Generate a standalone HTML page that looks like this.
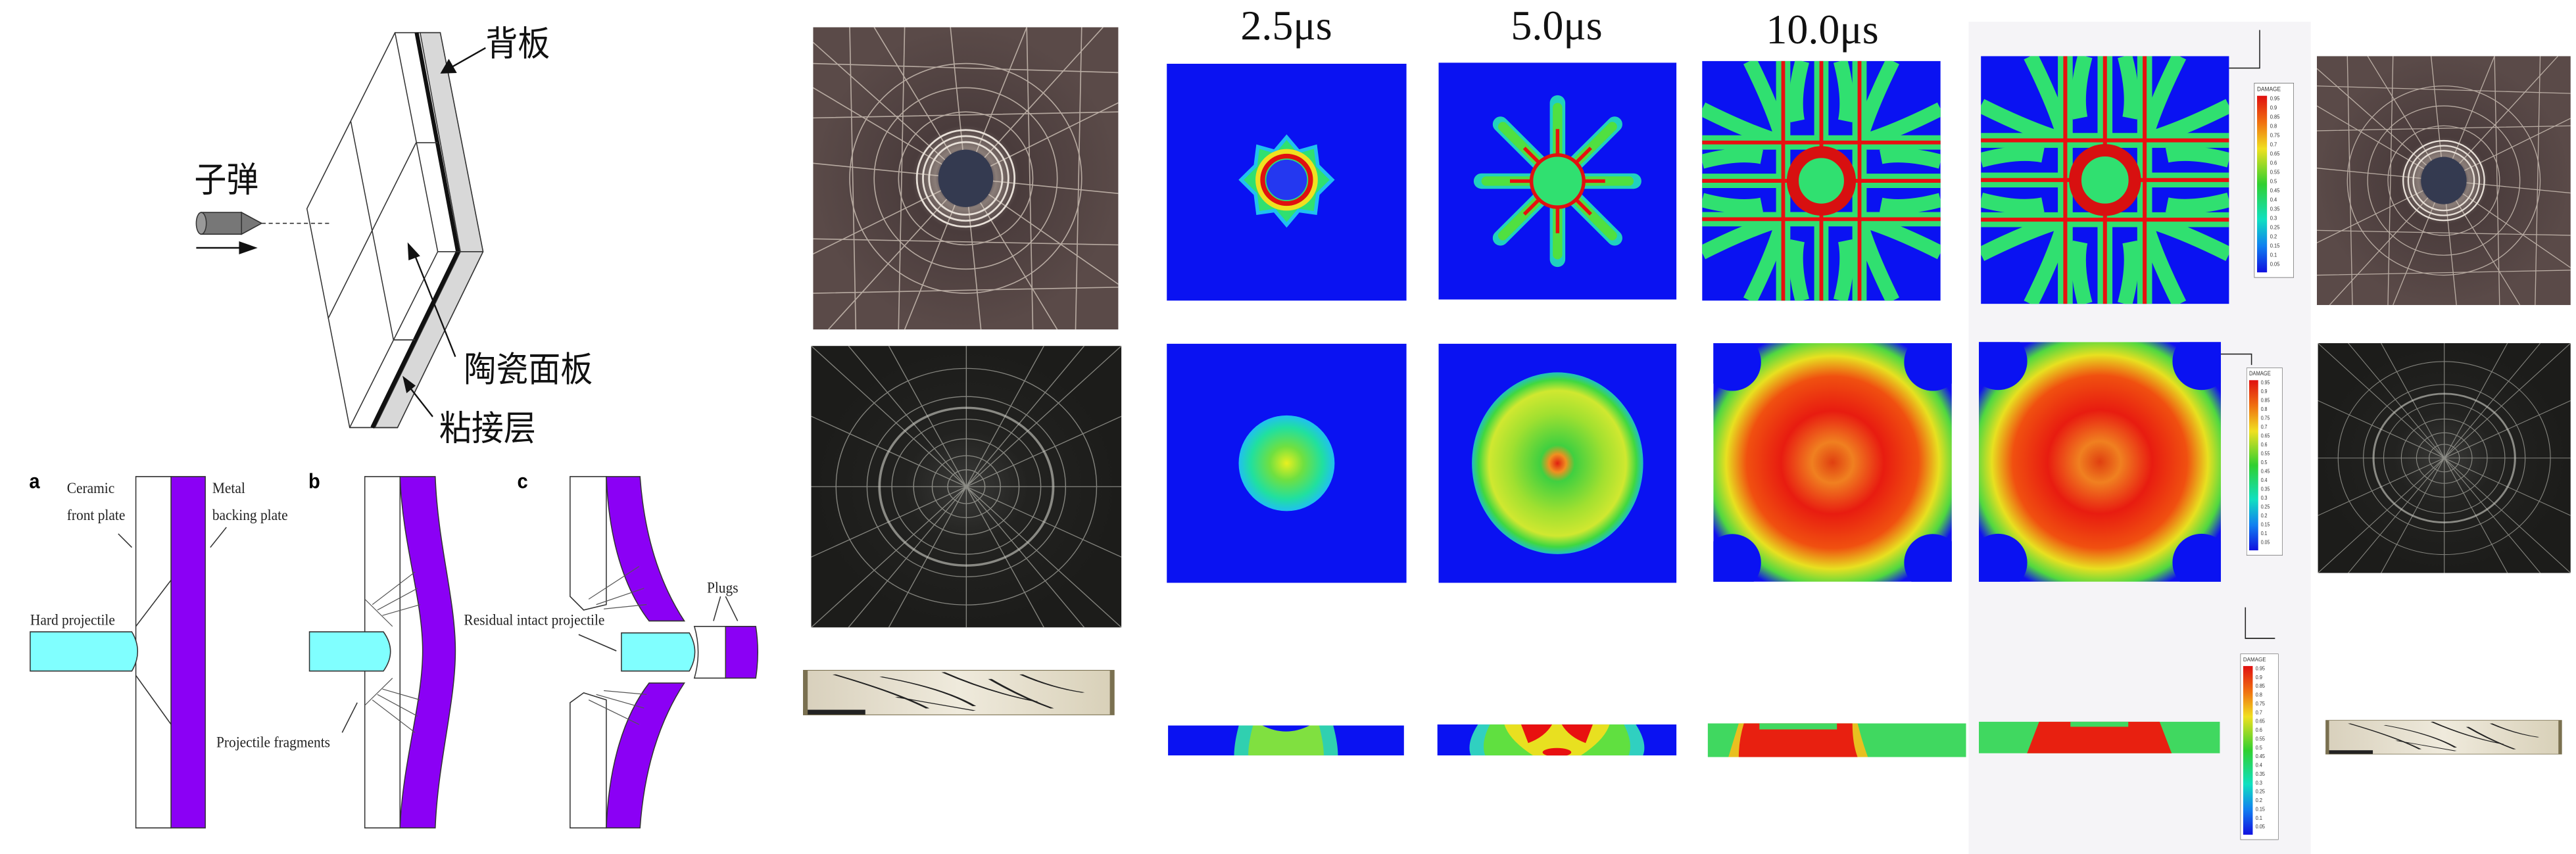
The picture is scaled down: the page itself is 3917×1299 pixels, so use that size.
<!DOCTYPE html>
<html><head><meta charset="utf-8"><style>
html,body{margin:0;padding:0;background:#fff;overflow:hidden;width:3917px;height:1299px;}
svg{display:block;}
</style></head><body>
<svg width="3917" height="1299" viewBox="0 0 3917 1299" xmlns="http://www.w3.org/2000/svg">
<defs>
<linearGradient id="cbar" x1="0" y1="0" x2="0" y2="1">
<stop offset="0" stop-color="#e01010"/><stop offset="0.15" stop-color="#f07010"/><stop offset="0.3" stop-color="#f0e020"/><stop offset="0.5" stop-color="#30d030"/><stop offset="0.7" stop-color="#10e0c0"/><stop offset="0.85" stop-color="#1080f0"/><stop offset="1" stop-color="#1010e0"/>
</linearGradient>
<radialGradient id="g4"><stop offset="0" stop-color="#e8f020"/><stop offset="0.35" stop-color="#70e040"/><stop offset="0.75" stop-color="#20e0a0"/><stop offset="1" stop-color="#20c0f0"/></radialGradient>
<radialGradient id="g5"><stop offset="0" stop-color="#e02010"/><stop offset="0.1" stop-color="#f09020"/><stop offset="0.2" stop-color="#40d040"/><stop offset="0.55" stop-color="#a0e030"/><stop offset="0.8" stop-color="#d0e830"/><stop offset="0.92" stop-color="#40d840"/><stop offset="1" stop-color="#20c0c0"/></radialGradient>
<radialGradient id="g6" cx="0.5" cy="0.5" r="0.72"><stop offset="0" stop-color="#e04010"/><stop offset="0.12" stop-color="#f08020"/><stop offset="0.3" stop-color="#e81c10"/><stop offset="0.5" stop-color="#f05010"/><stop offset="0.62" stop-color="#e8e020"/><stop offset="0.72" stop-color="#50d840"/><stop offset="0.8" stop-color="#1010f0"/><stop offset="1" stop-color="#1010f0"/></radialGradient>
<radialGradient id="ph1g"><stop offset="0" stop-color="#3a3548"/><stop offset="0.12" stop-color="#302a38"/><stop offset="0.2" stop-color="#8a7d78"/><stop offset="0.35" stop-color="#4a3c3c"/><stop offset="1" stop-color="#5a4a48"/></radialGradient>
<radialGradient id="ph2g"><stop offset="0" stop-color="#3a3a38"/><stop offset="0.4" stop-color="#222220"/><stop offset="1" stop-color="#1c1c1a"/></radialGradient>
<linearGradient id="stripg" x1="0" y1="0" x2="1" y2="0"><stop offset="0" stop-color="#d8d0bc"/><stop offset="0.5" stop-color="#efeadc"/><stop offset="1" stop-color="#d8d0b8"/></linearGradient>

<symbol id="s1" viewBox="0 0 100 100" preserveAspectRatio="none">
<rect width="100" height="100" fill="#0a12f2"/>
<polygon points="50,31 55,37 62,35 63,43 69,49 63,55 62,63 55,62 50,68 45,62 38,63 37,55 31,49 37,43 38,35 45,37" fill="#30e070" stroke="#20c0f0" stroke-width="1.5"/>
<circle cx="50" cy="49" r="11.5" fill="none" stroke="#f0e020" stroke-width="3"/>
<circle cx="50" cy="49" r="10" fill="none" stroke="#e01010" stroke-width="2"/>
<circle cx="50" cy="49" r="8.5" fill="#2438f0"/>
</symbol>

<symbol id="s2" viewBox="0 0 100 100" preserveAspectRatio="none">
<rect width="100" height="100" fill="#0a12f2"/>
<g stroke="#20d0c0" stroke-width="6.5" stroke-linecap="round">
<line x1="50" y1="50" x2="50" y2="17"/><line x1="50" y1="50" x2="50" y2="83"/><line x1="50" y1="50" x2="18" y2="50"/><line x1="50" y1="50" x2="82" y2="50"/>
<line x1="50" y1="50" x2="26" y2="26"/><line x1="50" y1="50" x2="74" y2="26"/><line x1="50" y1="50" x2="26" y2="74"/><line x1="50" y1="50" x2="74" y2="74"/>
</g>
<g stroke="#50e040" stroke-width="4" stroke-linecap="round">
<line x1="50" y1="50" x2="50" y2="19"/><line x1="50" y1="50" x2="50" y2="81"/><line x1="50" y1="50" x2="20" y2="50"/><line x1="50" y1="50" x2="80" y2="50"/>
<line x1="50" y1="50" x2="27" y2="27"/><line x1="50" y1="50" x2="73" y2="27"/><line x1="50" y1="50" x2="27" y2="73"/><line x1="50" y1="50" x2="73" y2="73"/>
</g>
<g stroke="#e81010" stroke-width="1.5">
<line x1="50" y1="50" x2="50" y2="28"/><line x1="50" y1="50" x2="50" y2="72"/><line x1="50" y1="50" x2="30" y2="50"/><line x1="50" y1="50" x2="70" y2="50"/>
<line x1="50" y1="50" x2="36" y2="36"/><line x1="50" y1="50" x2="64" y2="36"/><line x1="50" y1="50" x2="36" y2="64"/><line x1="50" y1="50" x2="64" y2="64"/>
</g>
<circle cx="50" cy="50" r="11" fill="#30e070" stroke="#e01010" stroke-width="1.5"/>
</symbol>

<symbol id="s3" viewBox="0 0 100 100" preserveAspectRatio="none">
<rect width="100" height="100" fill="#0a12f2"/>
<g stroke="#30e070" stroke-width="6" fill="none">
<line x1="34" y1="0" x2="34" y2="100"/><line x1="66" y1="0" x2="66" y2="100"/><line x1="50" y1="0" x2="50" y2="100"/>
<line x1="0" y1="34" x2="100" y2="34"/><line x1="0" y1="66" x2="100" y2="66"/><line x1="0" y1="50" x2="100" y2="50"/>
<path d="M20,0 Q30,20 34,34 M80,0 Q70,20 66,34 M20,100 Q30,80 34,66 M80,100 Q70,80 66,66 M0,20 Q20,30 34,34 M100,20 Q80,30 66,34 M0,80 Q20,70 34,66 M100,80 Q80,70 66,66"/>
<path d="M0,42 Q15,38 25,40 M100,42 Q85,38 75,40 M0,58 Q15,62 25,60 M100,58 Q85,62 75,60 M42,0 Q38,15 40,25 M58,0 Q62,15 60,25 M42,100 Q38,85 40,75 M58,100 Q62,85 60,75"/>
</g>
<g stroke="#e81010" stroke-width="1.6" fill="none">
<line x1="34" y1="0" x2="34" y2="100"/><line x1="66" y1="0" x2="66" y2="100"/><line x1="50" y1="0" x2="50" y2="100"/>
<line x1="0" y1="34" x2="100" y2="34"/><line x1="0" y1="66" x2="100" y2="66"/><line x1="0" y1="50" x2="100" y2="50"/>
</g>
<circle cx="50" cy="50" r="12" fill="#30e070" stroke="#d81010" stroke-width="5"/>
</symbol>

<symbol id="s4" viewBox="0 0 100 100" preserveAspectRatio="none">
<rect width="100" height="100" fill="#0a12f2"/>
<ellipse cx="50" cy="50" rx="20" ry="20" fill="url(#g4)"/>
</symbol>
<symbol id="s5" viewBox="0 0 100 100" preserveAspectRatio="none">
<rect width="100" height="100" fill="#0a12f2"/>
<ellipse cx="50" cy="50" rx="36" ry="38" fill="url(#g5)"/>
</symbol>
<symbol id="s6" viewBox="0 0 100 100" preserveAspectRatio="none">
<rect width="100" height="100" fill="url(#g6)"/>
<g fill="#0a12f2"><ellipse cx="8" cy="8" rx="12" ry="12"/><ellipse cx="92" cy="8" rx="12" ry="12"/><ellipse cx="8" cy="92" rx="12" ry="12"/><ellipse cx="92" cy="92" rx="12" ry="12"/></g>
</symbol>
<symbol id="s7" viewBox="0 0 100 100" preserveAspectRatio="none">
<rect width="100" height="100" fill="#0a12f2"/>
<path d="M30,0 L70,0 Q72,60 72,100 L28,100 Q28,60 30,0Z" fill="#30d0b0"/>
<path d="M36,0 L64,0 Q66,60 66,100 L34,100 Q34,60 36,0Z" fill="#80e040"/>
<path d="M40,0 Q50,40 60,0Z" fill="#0a12f2"/>
</symbol>
<symbol id="s8" viewBox="0 0 100 100" preserveAspectRatio="none">
<rect width="100" height="100" fill="#0a12f2"/>
<path d="M17,0 L83,0 Q88,60 86,100 L14,100 Q12,60 17,0Z" fill="#30d0c0"/>
<path d="M22,0 L78,0 Q82,60 80,100 L20,100 Q18,60 22,0Z" fill="#60e040"/>
<path d="M28,0 L72,0 Q70,50 60,100 L40,100 Q30,50 28,0Z" fill="#e8e020"/>
<path d="M35,0 L48,0 Q45,40 38,60Z M65,0 L52,0 Q55,40 62,60Z" fill="#e81010"/>
<ellipse cx="50" cy="90" rx="6" ry="14" fill="#e81010"/>
</symbol>
<symbol id="s9" viewBox="0 0 100 100" preserveAspectRatio="none">
<rect width="100" height="100" fill="#40d860"/>
<path d="M12,0 L58,0 Q60,60 62,100 L8,100 Q10,50 12,0Z" fill="#e8c020"/>
<path d="M14,0 L56,0 Q56,60 58,100 L12,100 Q12,50 14,0Z" fill="#e82010"/>
<rect x="20" y="0" width="30" height="18" fill="#40d860"/>
</symbol>
<symbol id="s9b" viewBox="0 0 100 100" preserveAspectRatio="none">
<rect width="100" height="100" fill="#40d860"/>
<path d="M25,0 L75,0 Q78,60 80,100 L20,100 Q22,60 25,0Z" fill="#e82010"/>
<rect x="38" y="0" width="24" height="16" fill="#40d860"/>
</symbol>

<symbol id="ph1" viewBox="0 0 100 100" preserveAspectRatio="none">
<rect width="100" height="100" fill="url(#ph1g)"/>
<g stroke="#d8ccc0" stroke-width="0.35" fill="none" opacity="0.75">
<path d="M50,50 L0,5 M50,50 L20,0 M50,50 L45,0 M50,50 L70,0 M50,50 L95,0 M50,50 L100,25 M50,50 L100,55 M50,50 L100,85 M50,50 L80,100 M50,50 L55,100 M50,50 L30,100 M50,50 L5,100 M50,50 L0,75 M50,50 L0,45 M50,50 L0,20"/>
<circle cx="50" cy="50" r="22"/><circle cx="50" cy="50" r="30"/><circle cx="50" cy="50" r="38"/>
<path d="M0,12 L100,15 M0,30 L100,28 M0,70 L100,72 M0,88 L100,86 M12,0 L14,100 M30,0 L28,100 M70,0 L72,100 M88,0 L86,100"/>
</g>
<g fill="none" stroke="#e8e0d8" stroke-width="0.6"><circle cx="50" cy="50" r="12"/><circle cx="50" cy="50" r="14"/><circle cx="50" cy="50" r="16"/></g>
<ellipse cx="50" cy="50" rx="9" ry="9.5" fill="#343a50"/>
</symbol>
<symbol id="ph2" viewBox="0 0 100 100" preserveAspectRatio="none">
<rect width="100" height="100" fill="url(#ph2g)"/>
<g stroke="#b0b0a8" stroke-width="0.3" fill="none" opacity="0.7">
<path d="M50,50 L0,0 M50,50 L25,0 M50,50 L50,0 M50,50 L75,0 M50,50 L100,0 M50,50 L100,25 M50,50 L100,50 M50,50 L100,75 M50,50 L100,100 M50,50 L75,100 M50,50 L50,100 M50,50 L25,100 M50,50 L0,100 M50,50 L0,75 M50,50 L0,50 M50,50 L0,25 M50,50 L12,0 M50,50 L88,0 M50,50 L12,100 M50,50 L88,100"/>
<circle cx="50" cy="50" r="6"/><circle cx="50" cy="50" r="11"/><circle cx="50" cy="50" r="17"/><circle cx="50" cy="50" r="24"/><circle cx="50" cy="50" r="32"/><circle cx="50" cy="50" r="42"/>
</g>
<g stroke="#d0d0c8" stroke-width="0.8" fill="none" opacity="0.6"><circle cx="50" cy="50" r="28"/></g>
</symbol>
<symbol id="strip" viewBox="0 0 100 100" preserveAspectRatio="none">
<rect width="100" height="100" fill="url(#stripg)"/>
<rect x="0" y="88" width="20" height="12" fill="#222"/>
<g stroke="#222" stroke-width="1.2" fill="none"><path d="M10,10 Q30,50 40,85 M25,15 Q45,40 55,80 M45,5 Q60,50 75,70 M60,20 Q70,60 80,85 M30,60 L55,90 M70,10 Q80,40 90,50"/></g>
<rect width="100" height="100" fill="none" stroke="#7a7050" stroke-width="3"/>
</symbol>

<symbol id="leg" viewBox="0 0 80 360" preserveAspectRatio="none">
<rect x="0.5" y="0.5" width="79" height="359" fill="#fff" stroke="#666" stroke-width="1"/>
<text x="6" y="15" font-family="Liberation Sans,sans-serif" font-size="11" fill="#333">DAMAGE</text>
<rect x="6" y="24" width="20" height="326" fill="url(#cbar)"/>
<g font-family="Liberation Sans,sans-serif" font-size="10" fill="#333">
<text x="32" y="32">0.95</text><text x="32" y="49">0.9</text><text x="32" y="66">0.85</text><text x="32" y="83">0.8</text><text x="32" y="100">0.75</text><text x="32" y="117">0.7</text><text x="32" y="134">0.65</text><text x="32" y="151">0.6</text><text x="32" y="168">0.55</text><text x="32" y="185">0.5</text><text x="32" y="202">0.45</text><text x="32" y="219">0.4</text><text x="32" y="236">0.35</text><text x="32" y="253">0.3</text><text x="32" y="270">0.25</text><text x="32" y="287">0.2</text><text x="32" y="304">0.15</text><text x="32" y="321">0.1</text><text x="32" y="338">0.05</text>
</g>
</symbol>
</defs>

<!-- LEFT SCHEMATIC -->
<g transform="scale(0.7651,0.8285)" font-family="Liberation Serif,serif">
<polygon points="785,60 875,60 960,462 790,785 695,785 610,383" fill="#fff" stroke="#333" stroke-width="2"/>
<polygon points="835,60 875,60 960,462 790,785 745,785 915,462" fill="#d8d8d8" stroke="#333" stroke-width="2"/>
<polyline points="828,60 910,462 740,785" fill="none" stroke="#111" stroke-width="8"/>
<polyline points="785,60 870,462 695,785" fill="none" stroke="#333" stroke-width="2"/>
<line x1="870" y1="462" x2="960" y2="462" stroke="#333" stroke-width="2"/>
<line x1="697" y1="222" x2="782" y2="624" stroke="#333" stroke-width="2"/>
<line x1="827" y1="262" x2="652" y2="585" stroke="#333" stroke-width="2"/>
<line x1="827" y1="262" x2="870" y2="262" stroke="#333" stroke-width="2"/>
<line x1="782" y1="624" x2="825" y2="624" stroke="#333" stroke-width="2"/>
<rect x="400" y="390" width="80" height="40" fill="#777" stroke="#333" stroke-width="2"/>
<ellipse cx="400" cy="410" rx="10" ry="20" fill="#999" stroke="#333" stroke-width="2"/>
<polygon points="480,390 520,410 480,430" fill="#777" stroke="#333" stroke-width="2"/>
<line x1="520" y1="410" x2="660" y2="410" stroke="#333" stroke-width="2" stroke-dasharray="8,6"/>
<line x1="390" y1="455" x2="480" y2="455" stroke="#111" stroke-width="3"/>
<polygon points="475,443 512,455 475,467" fill="#111"/>
<line x1="965" y1="88" x2="900" y2="122" stroke="#111" stroke-width="3"/><polygon points="875,135 892,108 908,134" fill="#111"/>
<line x1="905" y1="655" x2="825" y2="470" stroke="#111" stroke-width="3"/><polygon points="810,445 835,470 812,478" fill="#111"/>
<line x1="860" y1="765" x2="815" y2="712" stroke="#111" stroke-width="3"/><polygon points="800,690 826,708 808,722" fill="#111"/>
<g font-family="Liberation Sans,Noto Sans CJK SC,sans-serif" font-size="64" fill="#111">
<text x="965" y="102">背板</text>
<text x="386" y="352">子弹</text>
<text x="922" y="700">陶瓷面板</text>
<text x="873" y="808">粘接层</text>
</g>
<text x="58" y="896" font-family="Liberation Sans,sans-serif" font-weight="bold" font-size="38">a</text>
<rect x="270" y="875" width="70" height="645" fill="#fff" stroke="#333" stroke-width="2"/>
<rect x="340" y="875" width="68" height="645" fill="#8b00f5" stroke="#333" stroke-width="2"/>
<path d="M60,1160 L262,1160 Q285,1196 262,1232 L60,1232Z" fill="#80ffff" stroke="#333" stroke-width="2"/>
<line x1="270" y1="1150" x2="340" y2="1065" stroke="#333" stroke-width="2"/><line x1="270" y1="1240" x2="340" y2="1330" stroke="#333" stroke-width="2"/>
<line x1="235" y1="980" x2="262" y2="1005" stroke="#333" stroke-width="2"/><line x1="450" y1="968" x2="418" y2="1005" stroke="#333" stroke-width="2"/>
<g font-size="28" fill="#222">
<text x="133" y="905">Ceramic</text><text x="133" y="955">front plate</text>
<text x="422" y="905">Metal</text><text x="422" y="955">backing plate</text>
<text x="60" y="1147">Hard projectile</text>
</g>
<text x="613" y="896" font-family="Liberation Sans,sans-serif" font-weight="bold" font-size="38">b</text>
<path d="M725,875 L795,875 L795,1520 L725,1520Z" fill="#fff" stroke="#333" stroke-width="2"/>
<path d="M795,875 L865,875 C870,1000 905,1100 905,1195 C905,1290 870,1400 865,1520 L795,1520 C800,1400 840,1290 840,1195 C840,1100 800,1000 795,875Z" fill="#8b00f5" stroke="#333" stroke-width="2"/>
<g stroke="#555" stroke-width="1.5"><path d="M740,1110 L825,1050 M750,1120 L830,1080 M760,1130 L835,1110 M740,1285 L825,1345 M750,1275 L830,1315 M760,1265 L835,1285 M725,1100 L780,1150 M725,1295 L780,1245"/></g>
<path d="M615,1160 L762,1160 Q790,1196 762,1232 L615,1232Z" fill="#80ffff" stroke="#333" stroke-width="2"/>
<text x="430" y="1372" font-size="28" fill="#222">Projectile fragments</text>
<line x1="680" y1="1345" x2="710" y2="1290" stroke="#333" stroke-width="2"/>
<text x="1028" y="896" font-family="Liberation Sans,sans-serif" font-weight="bold" font-size="38">c</text>
<path d="M1133,875 L1205,875 L1205,1110 L1160,1120 L1133,1095Z" fill="#fff" stroke="#333" stroke-width="2"/>
<path d="M1133,1520 L1205,1520 L1205,1285 L1160,1272 L1133,1290Z" fill="#fff" stroke="#333" stroke-width="2"/>
<path d="M1205,875 L1272,875 C1280,980 1310,1070 1360,1140 L1290,1140 C1240,1080 1210,990 1205,875Z" fill="#8b00f5" stroke="#333" stroke-width="2"/>
<path d="M1205,1520 L1272,1520 C1280,1414 1310,1324 1360,1254 L1290,1254 C1240,1314 1210,1404 1205,1520Z" fill="#8b00f5" stroke="#333" stroke-width="2"/>
<g stroke="#555" stroke-width="1.5"><path d="M1170,1100 L1270,1040 M1185,1110 L1280,1080 M1200,1118 L1285,1110 M1170,1285 L1270,1330 M1185,1275 L1280,1300 M1200,1268 L1285,1275"/></g>
<path d="M1235,1162 L1370,1162 Q1392,1197 1370,1232 L1235,1232Z" fill="#80ffff" stroke="#333" stroke-width="2"/>
<path d="M1380,1150 L1442,1150 L1442,1245 L1380,1245 Q1395,1197 1380,1150Z" fill="#fff" stroke="#333" stroke-width="2"/>
<path d="M1442,1150 L1502,1150 Q1510,1197 1502,1245 L1442,1245Z" fill="#8b00f5" stroke="#333" stroke-width="2"/>
<g font-size="28" fill="#222"><text x="922" y="1147">Residual intact projectile</text><text x="1405" y="1088">Plugs</text></g>
<line x1="1150" y1="1165" x2="1225" y2="1195" stroke="#333" stroke-width="2"/>
<line x1="1432" y1="1095" x2="1418" y2="1140" stroke="#333" stroke-width="2"/><line x1="1442" y1="1095" x2="1466" y2="1140" stroke="#333" stroke-width="2"/>
</g>

<!-- MIDDLE -->
<g transform="translate(1200,0) scale(0.9569,0.8285)">
<use href="#ph1" x="38" y="50" width="485" height="555"/>
<use href="#ph2" x="35" y="635" width="493" height="517"/>
<use href="#strip" x="22" y="1230" width="495" height="83"/>
<use href="#s1" x="600" y="117" width="381" height="435"/>
<use href="#s2" x="1032" y="115" width="378" height="435"/>
<use href="#s4" x="600" y="631" width="381" height="439"/>
<use href="#s5" x="1032" y="631" width="378" height="439"/>
<use href="#s7" x="602" y="1332" width="375" height="55"/>
<use href="#s8" x="1030" y="1330" width="380" height="57"/>
</g>

<!-- RIGHT -->
<g transform="translate(2700,0) scale(0.7764,0.8285)">
<rect x="378" y="40" width="670" height="1528" fill="#f5f4f7"/>
<use href="#s3" x="-144" y="112" width="467" height="440"/>
<use href="#s6" x="-122" y="630" width="467" height="438"/>
<use href="#s9" x="-133" y="1328" width="506" height="62"/>
<use href="#s3" x="402" y="103" width="486" height="455"/>
<use href="#s6" x="398" y="628" width="474" height="440"/>
<use href="#s9b" x="398" y="1325" width="472" height="58"/>
<use href="#leg" x="937" y="152" width="78" height="358"/>
<use href="#leg" x="922" y="675" width="71" height="345"/>
<use href="#leg" x="910" y="1200" width="75" height="342"/>
<g stroke="#222" stroke-width="2" fill="none">
<path d="M888,125 L948,125 L948,55"/><path d="M872,650 L932,650 L932,670"/><path d="M920,1115 L920,1172 L978,1172"/>
</g>
<use href="#ph1" x="1060" y="103" width="497" height="457"/>
<use href="#ph2" x="1062" y="630" width="495" height="422"/>
<use href="#strip" x="1077" y="1322" width="463" height="63"/>
</g>

<g font-family="Liberation Serif,serif" font-size="64" fill="#111" text-anchor="middle">
<text x="1956" y="60">2.5μs</text>
<text x="2367" y="60">5.0μs</text>
<text x="2771" y="66">10.0μs</text>
</g>
</svg>
</body></html>
